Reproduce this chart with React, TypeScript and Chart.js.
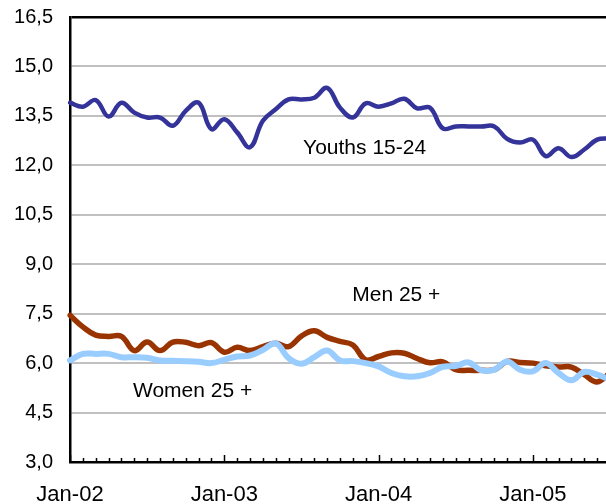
import { useEffect, useRef } from 'react';
import { Chart, registerables } from 'chart.js';

Chart.register(...registerables);

const months = [
  'Jan-02', 'Feb-02', 'Mar-02', 'Apr-02', 'May-02', 'Jun-02', 'Jul-02', 'Aug-02', 'Sep-02', 'Oct-02', 'Nov-02', 'Dec-02',
  'Jan-03', 'Feb-03', 'Mar-03', 'Apr-03', 'May-03', 'Jun-03', 'Jul-03', 'Aug-03', 'Sep-03', 'Oct-03', 'Nov-03', 'Dec-03',
  'Jan-04', 'Feb-04', 'Mar-04', 'Apr-04', 'May-04', 'Jun-04', 'Jul-04', 'Aug-04', 'Sep-04', 'Oct-04', 'Nov-04', 'Dec-04',
  'Jan-05', 'Feb-05', 'Mar-05', 'Apr-05', 'May-05', 'Jun-05', 'Jul-05',
];

const youths = [
  13.90, 13.78, 13.98, 13.48, 13.90, 13.60, 13.45, 13.45, 13.20, 13.65, 13.90, 13.10,
  13.40, 13.00, 12.55, 13.35, 13.70, 14.00, 14.00, 14.05, 14.35, 13.75, 13.45, 13.88,
  13.78, 13.88, 14.02, 13.73, 13.75, 13.12, 13.18, 13.18, 13.18, 13.18, 12.80, 12.69,
  12.78, 12.28, 12.52, 12.25, 12.48, 12.78, 12.82,
];

const men = [
  7.45, 7.10, 6.85, 6.81, 6.81, 6.38, 6.64, 6.38, 6.64, 6.63, 6.53, 6.62,
  6.33, 6.48, 6.38, 6.50, 6.60, 6.50, 6.82, 6.98, 6.78, 6.66, 6.55, 6.10,
  6.20, 6.31, 6.30, 6.14, 6.01, 6.04, 5.80, 5.78, 5.78, 5.80, 6.05, 6.02,
  6.00, 5.92, 5.88, 5.88, 5.65, 5.43, 5.70,
];

const women = [
  6.08, 6.28, 6.28, 6.28, 6.18, 6.18, 6.16, 6.08, 6.07, 6.06, 6.04, 6.00,
  6.10, 6.20, 6.23, 6.40, 6.60, 6.15, 5.98, 6.18, 6.38, 6.08, 6.06, 6.00,
  5.90, 5.70, 5.60, 5.60, 5.70, 5.89, 5.91, 6.02, 5.78, 5.80, 6.05, 5.80,
  5.75, 6.00, 5.70, 5.48, 5.73, 5.65, 5.50,
];

const seriesNames = ['Youths 15-24', 'Men 25 +', 'Women 25 +'];

const FONT = "'Liberation Sans', Arial, Helvetica, sans-serif";

// annotation anchors in data coordinates (category index, value)
const noteAnchors = [
  { idx: 18.13, val: 12.33 },
  { idx: 21.95, val: 7.89 },
  { idx: 4.9, val: 4.96 },
];

const decorPlugin = {
  id: 'decor',
  afterDatasetsDraw(chart: any) {
    const { ctx, scales } = chart;
    const xs = scales.x;
    const ys = scales.y;
    ctx.save();
    ctx.fillStyle = '#000';
    ctx.font = `21px ${FONT}`;
    ctx.textAlign = 'left';
    ctx.textBaseline = 'alphabetic';
    seriesNames.forEach((name, i) => {
      const a = noteAnchors[i];
      ctx.fillText(name, xs.getPixelForValue(a.idx), ys.getPixelForValue(a.val));
    });
    ctx.restore();
  },
  afterDraw(chart: any) {
    const { ctx, scales, chartArea } = chart;
    const xs = scales.x;
    ctx.save();
    ctx.strokeStyle = '#000';
    ctx.lineWidth = 1.5;
    months.forEach((m, i) => {
      const x = Math.round(xs.getPixelForValue(i)) + 0.5;
      const len = m.startsWith('Jan') ? 7 : 4;
      ctx.beginPath();
      ctx.moveTo(x, chartArea.bottom);
      ctx.lineTo(x, chartArea.bottom - len);
      ctx.stroke();
    });
    ctx.restore();
  },
};

export default function App() {
  const ref = useRef<HTMLCanvasElement | null>(null);

  useEffect(() => {
    if (!ref.current) return;
    const chart = new Chart(ref.current, {
      type: 'line',
      data: {
        labels: months,
        datasets: [
          {
            label: seriesNames[0],
            data: youths,
            borderColor: '#333399',
            borderWidth: 4.5,
            order: 0,
          },
          {
            label: seriesNames[2],
            data: women,
            borderColor: '#99CCFF',
            borderWidth: 6,
            order: 1,
          },
          {
            label: seriesNames[1],
            data: men,
            borderColor: '#993300',
            borderWidth: 5.5,
            order: 2,
          },
        ].map((d) => ({
          ...d,
          pointRadius: 0,
          tension: 0.4,
          fill: false,
          borderJoinStyle: 'round' as const,
          borderCapStyle: 'round' as const,
        })),
      },
      options: {
        animation: false,
        responsive: false,
        devicePixelRatio: 1,
        layout: { padding: { top: 27, right: 0, bottom: 0, left: 0 } },
        plugins: {
          legend: { display: false },
          tooltip: { enabled: false },
        },
        scales: {
          x: {
            type: 'category',
            offset: false,
            grid: { display: false },
            border: { display: true, color: '#000', width: 2.5 },
            ticks: {
              autoSkip: false,
              maxRotation: 0,
              minRotation: 0,
              padding: 12,
              color: '#000',
              font: { family: FONT, size: 22 },
              callback: (_v: any, i: number) => (months[i].startsWith('Jan') ? months[i] : ''),
            },
            afterFit: (s: any) => {
              s.height = 62;
            },
          },
          y: {
            min: 3,
            max: 16.5,
            grid: {
              drawTicks: false,
              color: (c: any) => (c.tick && c.tick.value === 16.5 ? '#000' : '#c0c0c0'),
              lineWidth: (c: any) => (c.tick && c.tick.value === 16.5 ? 2.5 : 2),
            },
            border: { display: true, color: '#000', width: 2.5 },
            ticks: {
              stepSize: 1.5,
              padding: 17,
              color: '#000',
              font: { family: FONT, size: 20 },
              callback: (v: any) => Number(v).toFixed(1).replace('.', ','),
            },
            afterFit: (s: any) => {
              s.width = 62;
            },
          },
        },
      },
      plugins: [decorPlugin],
    });
    return () => chart.destroy();
  }, []);

  return (
    <div style={{ position: 'fixed', left: 8, top: 8, width: 598, height: 496, overflow: 'hidden' }}>
      <canvas
        ref={ref}
        width={614}
        height={536}
        style={{ position: 'absolute', left: 0, top: -20, width: 614, height: 536 }}
      />
    </div>
  );
}
